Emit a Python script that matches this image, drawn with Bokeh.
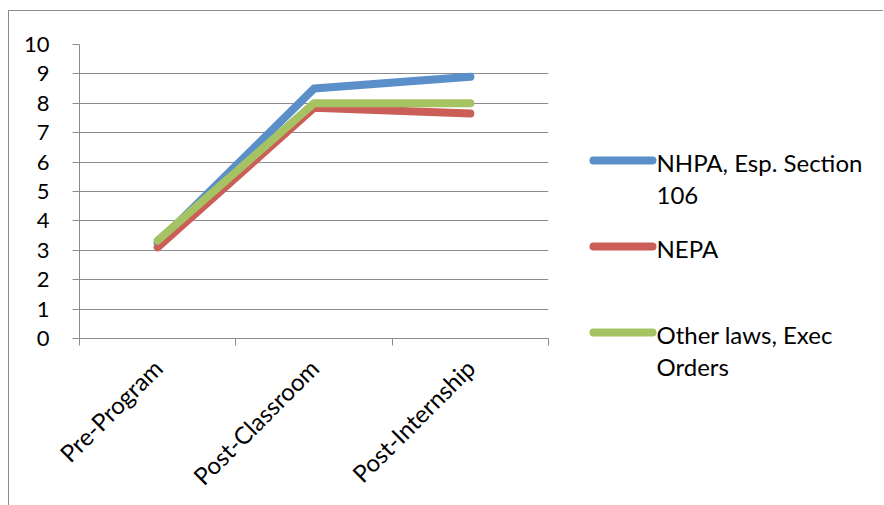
import math
from bokeh.plotting import figure
from bokeh.models import FixedTicker, Range1d
from bokeh.core.properties import value
from bokeh.layouts import row
from bokeh.embed import file_html
from bokeh.resources import INLINE

categories = ["Pre-Program", "Post-Classroom", "Post-Internship"]
nhpa = [3.25, 8.5, 8.9]
nepa = [3.1, 7.85, 7.65]
other = [3.33, 8.0, 8.0]
series_names = ["NHPA, Esp. Section\n106", "NEPA", "Other laws, Exec\nOrders"]
series_colors = ["#5B8FCA", "#CB5F58", "#A5C362"]
y_ticks = list(range(0, 11))

FONT = "Lato"
GRID = "#8C8C8C"

H = 494
p = figure(width=551, height=H, frame_width=469, frame_height=294,
           min_border_left=70, min_border_top=33, min_border_bottom=H - 33 - 294,
           min_border_right=12, output_backend="svg", toolbar_location=None,
           x_range=Range1d(0, len(categories)), y_range=Range1d(0, 10))
p.outline_line_color = None

xs = [i + 0.5 for i in range(len(categories))]
for vals, col in zip([nhpa, nepa, other], series_colors):
    p.line(xs, vals, line_width=8, line_color=col, line_cap="round", line_join="round")

p.xaxis.ticker = FixedTicker(ticks=xs, minor_ticks=list(range(len(categories) + 1)))
p.xaxis.major_label_overrides = {x: c for x, c in zip(xs, categories)}
p.xaxis.major_label_orientation = math.pi / 4
p.xaxis.major_tick_out = 0
p.xaxis.major_tick_in = 0
p.xaxis.minor_tick_out = 7
p.xaxis.minor_tick_in = 0
p.xaxis.minor_tick_line_color = GRID
p.xaxis.axis_line_color = GRID
p.xaxis.major_label_text_font = FONT
p.xaxis.major_label_text_font_size = "24px"
p.xaxis.major_label_text_color = "black"
p.xaxis.major_label_standoff = 18
p.xgrid.grid_line_color = None

p.yaxis.ticker = FixedTicker(ticks=y_ticks)
p.yaxis.major_tick_out = 7
p.yaxis.major_tick_in = 0
p.yaxis.minor_tick_line_color = None
p.yaxis.major_tick_line_color = GRID
p.yaxis.axis_line_color = GRID
p.yaxis.major_label_text_font = FONT
p.yaxis.major_label_text_font_size = "22px"
p.yaxis.major_label_text_color = "black"
p.yaxis.major_label_standoff = 23
p.ygrid.grid_line_color = GRID
p.ygrid.grid_line_width = 1

# legend panel (wrapped labels); data coordinates equal page pixels
LW = 323
TOP = 44
leg = figure(width=LW, height=H, frame_width=LW, frame_height=505 - TOP, min_border=0,
             output_backend="svg", toolbar_location=None,
             x_range=Range1d(560, 560 + LW), y_range=Range1d(505, TOP))
leg.axis.visible = False
leg.grid.visible = False
leg.outline_line_color = None
leg_y = [160, 246, 332]
for col, cy in zip(series_colors, leg_y):
    leg.line([593, 652], [cy, cy], line_width=8, line_color=col, line_cap="round")
leg.text(x=[656] * 3, y=[cy - 13 for cy in leg_y], text=series_names,
         text_font=value(FONT), text_font_size="24px", text_color="black",
         text_baseline="top", text_align="left", text_line_height=1.11)

layout = row(p, leg, margin=(10, 0, 0, 8),
             styles={"border-left": "1px solid #8c8c8c", "border-top": "1px solid #8c8c8c"})

open("out.html", "w").write(file_html(layout, INLINE))
